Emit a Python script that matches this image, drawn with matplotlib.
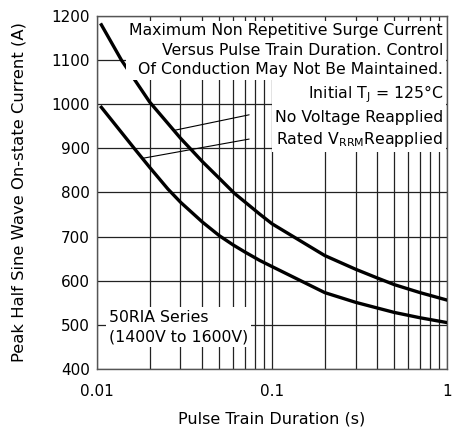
import numpy as np
import matplotlib.pyplot as plt
from matplotlib.ticker import FixedLocator, NullFormatter

plt.rcParams['font.family'] = ['DejaVu Sans']

# pulse train duration (s) and peak current (A)
t_novolt = [0.0106, 0.0138, 0.02, 0.03, 0.034, 0.04, 0.05, 0.061, 0.085, 0.1,
            0.2, 0.3, 0.4, 0.5, 0.7, 1.0]
i_novolt = [1180, 1100, 1005, 923, 900, 870, 832, 798, 751, 729,
            657, 626, 606, 591, 573, 556]

t_rated = [0.0106, 0.0164, 0.02, 0.0254, 0.03, 0.04, 0.05, 0.06, 0.07, 0.085,
           0.1, 0.2, 0.3, 0.4, 0.5, 0.7, 1.0]
i_rated = [993, 899, 857, 808, 778, 733, 702, 681, 665, 646,
           632, 573, 551, 538, 528, 516, 505]

x_ticks = [0.01, 0.1, 1]
x_ticklabels = ['0.01', '0.1', '1']
y_ticks = [400, 500, 600, 700, 800, 900, 1000, 1100, 1200]

fig = plt.figure(figsize=(4.53, 4.32), dpi=100)
ax = fig.add_axes([0.214, 0.146, 0.773, 0.817])

ax.set_xscale('log')
ax.set_xlim(0.01, 1)
ax.set_ylim(400, 1200)
ax.xaxis.set_major_locator(FixedLocator(x_ticks))
ax.set_xticklabels(x_ticklabels)
minor = [m * d for d in (0.01, 0.1) for m in range(2, 10)]
ax.xaxis.set_minor_locator(FixedLocator(minor))
ax.xaxis.set_minor_formatter(NullFormatter())
ax.set_yticks(y_ticks)
ax.tick_params(which='both', length=0, labelsize=11)
ax.tick_params(axis='x', pad=11)
ax.tick_params(axis='y', pad=5)

ax.grid(True, which='both', color='#222222', linewidth=0.9)
ax.set_axisbelow(True)
for s in ax.spines.values():
    s.set_color('#555555')
    s.set_linewidth(1.0)

ax.plot(t_novolt, i_novolt, color='black', linewidth=2.4, zorder=3)
ax.plot(t_rated, i_rated, color='black', linewidth=2.4, zorder=3)

ax.set_xlabel('Pulse Train Duration (s)', fontsize=11.5, labelpad=9)
ax.set_ylabel('Peak Half Sine Wave On-state Current (A)', fontsize=11.8, labelpad=18)

box = dict(facecolor='white', edgecolor='none', pad=2)
ax.text(0.988, 0.979, 'Maximum Non Repetitive Surge Current\n'
        'Versus Pulse Train Duration. Control\n'
        'Of Conduction May Not Be Maintained.',
        transform=ax.transAxes, ha='right', va='top', fontsize=11.3,
        linespacing=1.36, bbox=box, zorder=4)
ax.text(0.988, 0.808, 'Initial T$_\\mathregular{J}$ = 125°C\n'
        'No Voltage Reapplied\n'
        'Rated V$_\\mathregular{RRM}$Reapplied',
        transform=ax.transAxes, ha='right', va='top', fontsize=11.3,
        linespacing=1.36, bbox=box, zorder=4)
ax.text(0.035, 0.118, '50RIA Series\n(1400V to 1600V)',
        transform=ax.transAxes, ha='left', va='center', fontsize=11.3,
        linespacing=1.36, bbox=box, zorder=4)

# leader lines from the labels to the curves
ax.annotate('', xy=(0.0278, 941), xytext=(0.074, 976),
            arrowprops=dict(arrowstyle='-', color='black', lw=0.8,
                            shrinkA=0, shrinkB=0), zorder=4)
ax.annotate('', xy=(0.018, 877), xytext=(0.074, 921),
            arrowprops=dict(arrowstyle='-', color='black', lw=0.8,
                            shrinkA=0, shrinkB=0), zorder=4)

plt.savefig('out.png', dpi=100)
